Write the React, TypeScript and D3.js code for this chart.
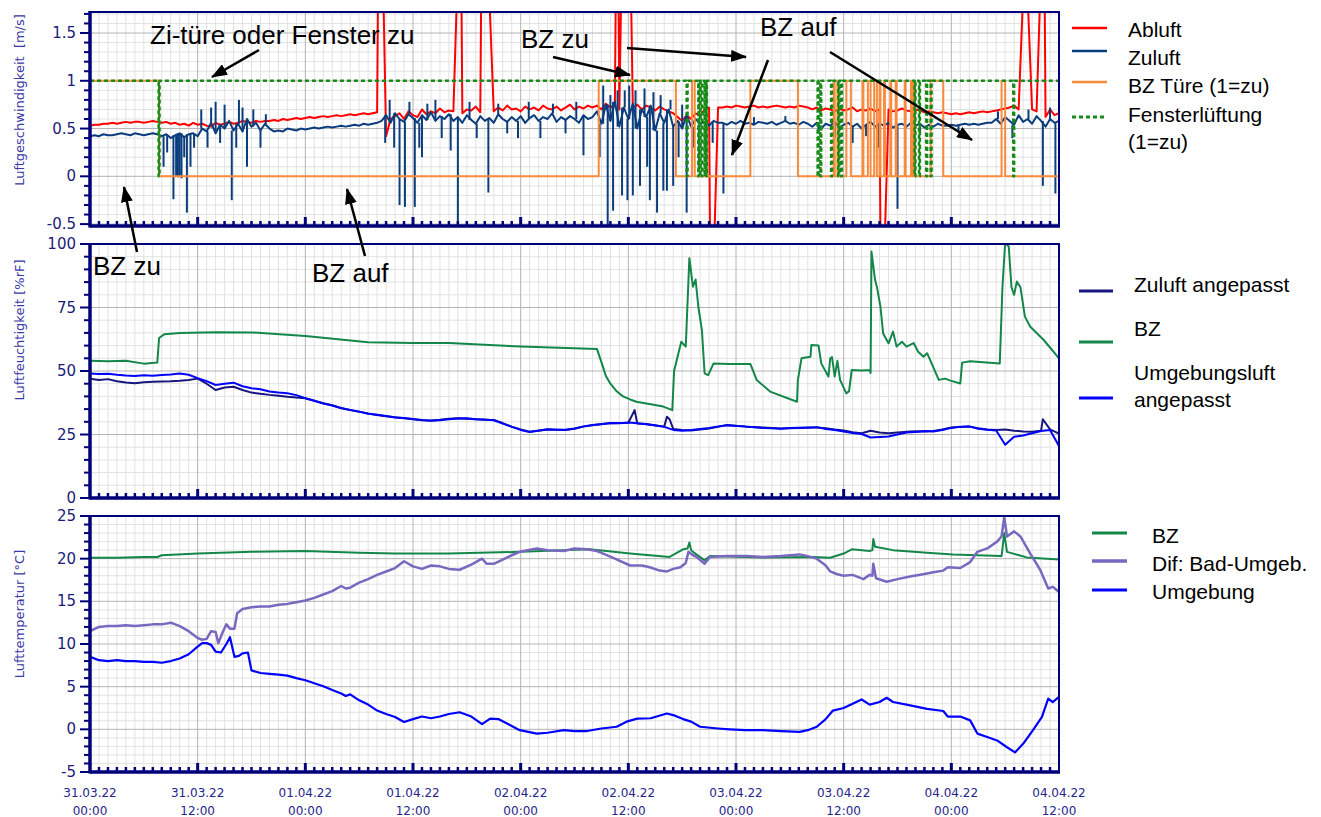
import React, { useEffect, useRef } from 'react';
import * as d3 from 'd3';

// time axis: hours since 31.03.22 00:00
const tickDates = ['31.03.22', '31.03.22', '01.04.22', '01.04.22', '02.04.22', '02.04.22', '03.04.22', '03.04.22', '04.04.22', '04.04.22'];
const tickTimes = ['00:00', '12:00', '00:00', '12:00', '00:00', '12:00', '00:00', '12:00', '00:00', '12:00'];

// --- top panel: Luftgeschwindigkeit [m/s], one value every 0.5 h ---
const zuluft = [
 0.42, 0.43, 0.42, 0.44, 0.43, 0.43, 0.44, 0.45, 0.44, 0.43, 0.45, 0.44, 0.43, 0.44, 0.45, 0.44,
 0.42, 0.44, 0.40, 0.43, 0.45, 0.41, 0.44, 0.45, 0.42,
 0.50, 0.47, 0.56, 0.45, 0.54, 0.50, 0.58, 0.48, 0.55, 0.47, 0.60, 0.52, 0.56, 0.48, 0.55, 0.50,
 0.47, 0.48, 0.47, 0.50, 0.49, 0.48, 0.50, 0.49, 0.50, 0.51, 0.50, 0.51, 0.52, 0.51, 0.52, 0.53, 0.52, 0.53, 0.54, 0.53, 0.55, 0.54, 0.55, 0.56,
 0.58, 0.64, 0.56, 0.66, 0.60, 0.57, 0.65, 0.61, 0.56, 0.64, 0.59, 0.67, 0.58, 0.63, 0.60, 0.65,
 0.58, 0.62, 0.56, 0.64, 0.59, 0.55, 0.63, 0.58, 0.61, 0.56, 0.65, 0.60, 0.57, 0.62, 0.58, 0.63, 0.56, 0.61, 0.64, 0.58, 0.62, 0.60, 0.66, 0.57, 0.62, 0.59, 0.63, 0.60, 0.56, 0.64, 0.60, 0.62,
 0.68, 0.55, 0.75, 0.58, 0.78, 0.52, 0.72, 0.60, 0.76, 0.50, 0.70, 0.62, 0.74, 0.48, 0.66, 0.56, 0.70, 0.52,
 0.58, 0.50, 0.64, 0.52, 0.60, 0.55, 0.57, 0.53, 0.58, 0.56,
 0.56, 0.54, 0.57, 0.55, 0.58, 0.55, 0.56, 0.54, 0.57, 0.56, 0.55, 0.57, 0.54, 0.56, 0.58, 0.55, 0.56, 0.54, 0.57, 0.55,
 0.52, 0.56, 0.50, 0.55, 0.53, 0.57, 0.51, 0.54, 0.56, 0.52, 0.55, 0.50, 0.54, 0.57, 0.52, 0.55, 0.53, 0.56, 0.51, 0.54, 0.55, 0.52, 0.56, 0.53, 0.55, 0.51, 0.54, 0.52, 0.55, 0.53,
 0.53, 0.54, 0.53, 0.54, 0.55, 0.54, 0.55, 0.54, 0.55, 0.56,
 0.56, 0.60, 0.55, 0.62, 0.58, 0.54, 0.64, 0.57, 0.60, 0.55, 0.63, 0.58, 0.52, 0.60, 0.56, 0.58,
];
// short excursions of the Zuluft signal: [hour, extreme value]
const zuluftSpikes: [number, number][] = [
 [8.2, 0.1], [8.6, 0.25], [9.3, -0.24], [9.6, 0.0], [9.8, -0.01], [10.0, 0.0], [10.2, -0.02], [10.5, 0.2], [10.8, -0.38], [11.2, 0.1], [11.6, 0.3],
 [12.4, 0.7], [13.1, 0.3], [13.5, 0.72], [14.0, 0.78], [14.5, 0.35], [15.0, 0.75], [15.8, -0.25], [16.3, 0.3], [16.6, 0.8], [17.0, 0.72], [17.5, 0.1], [18.2, 0.7], [19.0, 0.3], [19.6, 0.65],
 [32.9, 0.35], [33.4, 0.8], [33.9, 0.3], [34.5, -0.3], [35.1, -0.32], [35.6, 0.78], [36.2, -0.32], [36.7, 0.3], [37.0, 0.2], [37.6, 0.76], [38.5, 0.8], [39.2, 0.4],
 [40.2, 0.27], [41.0, -0.52], [42.3, 0.78], [43.1, 0.4], [44.4, -0.17], [45.5, 0.76], [46.5, 0.45], [47.7, 0.4], [48.9, 0.78], [50.2, 0.4], [51.6, 0.76], [53.0, 0.45], [54.2, 0.78], [55.0, 0.22],
 [56.8, 0.2], [57.2, 0.95], [57.7, -0.52], [58.0, 0.85], [58.3, -0.36], [58.8, 0.9], [59.3, -0.2], [59.6, 0.9], [59.9, -0.25], [60.1, 0.95], [60.5, -0.2], [60.8, 0.9],
 [61.3, -0.1], [61.8, 0.92], [62.1, 0.1], [62.4, -0.25], [62.8, 0.88], [63.2, -0.38], [63.6, 0.85], [63.9, -0.15], [64.3, -0.15], [64.7, 0.8], [65.0, -0.1],
 [65.6, 0.2], [66.0, 0.75], [66.5, -0.38], [67.2, 0.3], [67.9, 0.1], [68.6, 0.25], [69.4, 0.35],
 [70.6, -0.18], [74.0, 0.62], [77.5, 0.63], [81.2, 0.45], [83.0, 0.4], [85.0, 0.35], [86.5, 0.42], [87.9, 0.3], [90.0, -0.34], [92.5, 0.43],
 [96.8, 0.46], [101.2, 0.68], [102.8, 0.4], [104.6, 0.7], [106.2, -0.1], [107.0, 0.72], [107.6, -0.18],
];
const abluft = [
 0.53, 0.54, 0.54, 0.55, 0.55, 0.56, 0.55, 0.56, 0.57, 0.56, 0.57, 0.57, 0.56, 0.57, 0.58, 0.57,
 0.56, 0.57, 0.55, 0.56, 0.54, 0.55, 0.53, 0.56, 0.54, 0.55, 0.53, 0.52, 0.56, 0.54, 0.55, 0.57, 0.55, 0.56, 0.58, 0.57, 0.56, 0.58, 0.57, 0.58,
 0.58, 0.59, 0.58, 0.60, 0.59, 0.60, 0.61, 0.60, 0.61, 0.62, 0.61, 0.62, 0.63, 0.62, 0.63, 0.64, 0.63, 0.64, 0.65, 0.64, 0.65, 0.66, 0.65, 0.66, 0.67,
 0.35, 0.42, 0.60, 0.63, 0.66, 0.60, 0.68, 0.64, 0.62, 0.70, 0.65, 0.68, 0.66, 0.71, 0.67, 0.69,
 0.68, 0.72, 0.66, 0.70, 0.69, 0.73, 0.67, 0.71, 0.70, 0.68, 0.72, 0.69, 0.74, 0.70, 0.71, 0.68, 0.73, 0.70, 0.72, 0.69, 0.74, 0.71, 0.70, 0.73, 0.69, 0.72, 0.75, 0.70, 0.73, 0.71, 0.74, 0.72,
 0.74, 0.70, 0.76, 0.72, 0.75, 0.70, 0.77, 0.73, 0.72, 0.75, 0.70, 0.74, 0.72, 0.69, 0.73, 0.70, 0.68, 0.66,
 0.62, 0.58, 0.64, 0.60, 0.66, 0.63, 0.70, 0.72, 0.73, 0.72,
 0.72, 0.73, 0.72, 0.74, 0.73, 0.72, 0.73, 0.74, 0.72, 0.73, 0.72, 0.73, 0.74, 0.73, 0.72, 0.73, 0.72, 0.74, 0.73, 0.72,
 0.70, 0.72, 0.69, 0.71, 0.70, 0.68, 0.71, 0.69, 0.70, 0.72, 0.68, 0.70, 0.69, 0.71, 0.68, 0.70, 0.69, 0.70, 0.68, 0.69, 0.71, 0.69, 0.68, 0.70, 0.69, 0.67, 0.68, 0.67, 0.66, 0.67,
 0.66, 0.65, 0.66, 0.65, 0.66, 0.67, 0.66, 0.67, 0.68, 0.67,
 0.68, 0.69, 0.70, 0.71, 0.72, 0.74, 0.70, 0.73, 0.65, 0.70, 0.68, 0.72, 0.62, 0.70, 0.64, 0.66,
];
// [start, end, value] where Abluft leaves the plotted range
const abluftPeaks: [number, number, number][] = [
 [32.1, 32.7, 1.9], [40.9, 41.4, 1.9], [43.6, 44.5, 1.9], [58.6, 58.9, 1.9], [59.2, 59.5, 1.9],
 [59.9, 60.3, 1.9], [69.1, 69.6, -0.6], [88.1, 88.6, -0.6], [104.0, 104.5, 1.9], [105.9, 106.4, 1.9],
];
const doorTimes = [0, 7.7, 56.7, 65.3, 67.1, 67.4, 73.6, 78.9, 82.9, 83.0, 83.3, 83.4, 84.3, 84.8, 86.1, 86.2, 86.7, 87.0, 87.4, 87.7, 88.0, 88.1, 88.5, 88.6, 89.2, 89.3, 89.8, 89.9, 90.8, 90.9, 91.5, 91.6, 91.8, 91.9, 93.7, 95.1, 101.6, 102.0];
const doorStates = [1, 0, 1, 0, 1, 0, 1, 0, 1, 0, 1, 0, 1, 0, 1, 0, 1, 0, 1, 0, 1, 0, 1, 0, 1, 0, 1, 0, 1, 0, 1, 0, 1, 0, 1, 0, 1, 0];
const windowTimes = [0, 7.65, 7.75, 66.5, 66.6, 67.8, 67.85, 68.0, 68.05, 68.2, 68.25, 68.5, 68.55, 68.7, 68.75, 81.1, 81.2, 81.4, 81.5, 82.6, 82.7, 83.4, 83.5, 83.7, 83.8, 91.9, 92.0, 92.4, 92.5, 93.2, 93.3, 93.7, 93.8, 102.9, 103.0];
const windowStates = [1, 0, 1, 0, 1, 0, 1, 0, 1, 0, 1, 0, 1, 0, 1, 0, 1, 0, 1, 0, 1, 0, 1, 0, 1, 0, 1, 0, 1, 0, 1, 0, 1, 0, 1];

// --- middle panel: Luftfeuchtigkeit [%rF], hourly ---
const rhZuluft = [
 47, 46.5, 46.8, 46, 45.5, 45.2, 45.6, 45.8, 45.9, 46, 46.2, 46.5, 47,
 45, 42.5, 43.5, 43.8, 42.5, 41.5, 41, 40.6, 40.3, 39.9, 39.6, 39.3,
 38.3, 37.3, 36.5, 35.3, 34.6, 34, 33.3, 32.7, 32.2, 31.8, 31.4, 31, 30.6,
 30.5, 30.8, 31.2, 31.4, 31.2, 31, 30.8, 30.7, 29.5, 28.1, 27, 26.1, 26.5,
 27, 26.9, 26.8, 27.3, 28.1, 28.6, 29.1, 29.4, 29.5, 29.6, 29.3, 29.1, 28.6, 28.1,
 27.2, 26.8, 26.6, 27, 27.4, 28, 28.7, 28.4, 28.1, 28, 27.8, 27.6,
 27.4, 27.5, 27.6, 27.8, 27.8, 27.5, 27, 26.6, 25.9, 25.5, 26.5, 25.8,
 25.5, 25.8, 26.1, 26.3, 26.2, 26.4, 27, 27.8, 28.1, 28.1, 27.5, 27,
 26.8, 27, 26.5, 26.2, 26.1, 26.5, 27, 25.4,
];
const rhZuluftSpikes: [number, number][] = [[60.7, 34.6], [64.3, 32], [64.6, 31], [106.2, 31]];
const rhUmgebung = [
 49, 48.8, 48.9, 48.5, 48.2, 48, 48.3, 48.1, 48.4, 48.6, 49, 48.5, 47.2,
 46, 44.5, 45, 45.4, 44, 43.2, 42.8, 41.9, 41.5, 41.2, 40.5, 39.3,
 38.3, 37.2, 36.4, 35.4, 34.7, 34, 33.2, 32.8, 32.3, 31.7, 31.5, 31.1, 30.7,
 30.4, 30.6, 31, 31.3, 31.4, 31, 30.9, 30.6, 29.3, 28, 26.8, 26, 26.6,
 27.1, 26.9, 26.9, 27.4, 28.2, 28.7, 29, 29.5, 29.4, 29.7, 29.4, 29, 28.5, 28,
 26.8, 26.5, 26.8, 27.2, 27.6, 28.2, 28.6, 28.3, 28.2, 27.9, 27.6, 27.5,
 27.3, 27.6, 27.7, 27.7, 27.9, 27.2, 26.8, 26.2, 25.6, 25.2, 23.8, 24,
 24.2, 25, 25.8, 26, 26.4, 26.2, 26.8, 27.6, 28, 28.2, 27.3, 26.9,
 26.6, 21, 24.1, 24.6, 25.5, 26.4, 26.8, 20.5,
];
const rhBZ: [number, number][] = [
 [0, 54], [2, 53.8], [4, 54], [6, 52.9], [7.5, 53.3], [7.7, 63], [8.3, 64.5], [10, 65], [14, 65.3], [18, 65.2],
 [24, 63.8], [31, 61.3], [36, 61], [40, 61], [48, 59.6], [56.5, 58.7], [57.0, 53.5], [57.5, 48], [58, 45], [58.7, 42],
 [59.4, 40], [60.2, 38.8], [60.9, 37.9], [62.5, 36.9], [63.9, 36], [64.9, 34.6], [65.1, 50], [65.4, 54.3], [65.9, 61.5],
 [66.4, 59.6], [66.8, 94.4], [67.2, 83.2], [67.5, 86], [67.8, 75.3], [68.2, 66.1], [68.5, 49.1], [68.9, 48.4], [69.5, 53],
 [71.3, 52.8], [73.6, 52.8], [74.3, 46.5], [75.8, 41.9], [78.8, 37.9], [78.9, 46.5], [79.3, 55], [80.3, 55.6], [80.4, 60.2],
 [81.2, 60], [81.5, 53], [82.3, 47.8], [82.5, 55], [82.7, 55.5], [83.0, 47.8], [83.3, 54], [83.6, 46.5], [84.3, 41.2],
 [84.6, 42], [84.9, 50.4], [86, 50.2], [86.9, 50.4], [87.0, 49.2], [87.1, 97], [87.5, 85.8], [87.7, 83.2], [88.1, 75.3],
 [88.4, 64.8], [89.0, 60.9], [89.5, 65.5], [89.9, 59.6], [90.5, 61.5], [91.0, 59.6], [91.8, 61], [92.3, 57.6], [92.9, 55.6],
 [93.3, 57], [93.8, 53], [94.6, 46.5], [95.3, 47], [95.9, 46.2], [97.0, 45.1], [97.2, 53.3], [98.1, 53.8], [101.4, 53],
 [101.7, 83.2], [102.0, 100.5], [102.4, 99], [102.7, 83], [103.0, 80], [103.3, 85.2], [103.7, 83], [104.2, 71.4],
 [104.8, 67.4], [106.3, 62.2], [108, 55],
];

// --- bottom panel: Lufttemperatur [°C] ---
const tBZ: [number, number][] = [
 [0, 20.1], [3, 20.1], [6, 20.2], [7.5, 20.2], [8, 20.4], [12, 20.6], [18, 20.8], [24, 20.9], [30, 20.7], [34, 20.6],
 [40, 20.6], [48, 20.8], [55.7, 21.1], [60.2, 20.6], [64.6, 20.2], [66.1, 21.1], [66.6, 21.2], [66.8, 21.9], [67.0, 21.0],
 [67.2, 20.8], [68.5, 19.8], [69.1, 20.3], [75, 20.15], [80.6, 20.2], [82.5, 20.1], [84, 20.6], [84.9, 21.1], [86.9, 20.9],
 [87.2, 21.0], [87.3, 22.3], [87.5, 21.4], [89.5, 21], [93.3, 20.7], [96.2, 20.5], [101.6, 20.3], [101.9, 23], [102.2, 20.8],
 [104.4, 20.15], [108, 19.9],
];
const tDif: [number, number][] = [
 [0, 11.5], [1, 12], [2, 12.1], [3, 12.1], [4, 12.2], [5, 12.1], [6, 12.2], [7, 12.3], [8, 12.3], [9, 12.5], [10, 12.1],
 [11, 11.5], [12, 10.7], [12.5, 10.5], [13, 10.6], [13.5, 11.5], [14, 11.4], [14.3, 10.1], [14.8, 11.4], [15.2, 12.3],
 [15.6, 11.8], [16.1, 11.8], [16.4, 13.6], [17, 14.1], [18, 14.3], [19, 14.4], [20, 14.4], [21, 14.6], [22, 14.7],
 [23, 14.9], [24, 15.1], [25, 15.4], [26, 15.8], [27, 16.2], [28, 16.8], [28.5, 16.5], [29, 16.6], [30, 17.2], [31, 17.6],
 [32, 18.1], [33, 18.5], [34, 18.9], [35, 19.7], [36, 19.1], [37, 18.8], [38, 19.2], [39, 19.1], [40, 18.8], [41.2, 18.7],
 [42.5, 19.3], [43.7, 20], [44.2, 19.4], [45, 19.4], [46, 19.9], [47, 20.4], [47.9, 20.8], [49.8, 21.2], [51, 21],
 [52.8, 20.9], [54, 21.2], [55.4, 21.1], [56.5, 20.9], [57.2, 20.6], [58.5, 20], [60.2, 19.2], [61.5, 19.2], [62.4, 19],
 [63.5, 18.6], [64.3, 18.5], [65, 18.8], [65.8, 19], [66.4, 19.5], [66.7, 20.8], [67.2, 20.4], [67.6, 20.2], [68.5, 19.4],
 [69.1, 20.2], [71, 20.3], [73.2, 20.3], [75, 20.2], [77, 20.3], [79.1, 20.5], [80, 20.3], [81, 20], [82, 19.2],
 [82.5, 18.5], [83.2, 18.2], [84, 18], [85, 18.1], [86.2, 17.6], [86.9, 18.1], [87.2, 18], [87.3, 19.4], [87.6, 17.7],
 [88.8, 17.3], [90, 17.6], [91.4, 17.9], [93, 18.2], [94, 18.4], [95.1, 18.6], [95.6, 19], [97, 18.9], [98.1, 19.6],
 [98.9, 20.8], [100, 21.2], [101.1, 22], [101.6, 22.6], [101.9, 24.9], [102.2, 22.6], [103, 23.2], [103.7, 22.6],
 [104.8, 20.6], [105.9, 18.7], [106.8, 16.5], [107.3, 16.7], [108, 16.1],
];
const tUmgebung: [number, number][] = [
 [0, 8.5], [1, 8.1], [2, 8.0], [3, 8.1], [4, 8.0], [5, 8.0], [6, 7.9], [7, 7.9], [8, 7.8], [9, 8.0], [10, 8.3], [11, 8.8],
 [12, 9.7], [12.5, 10.1], [13, 10.1], [13.5, 9.9], [14, 9.1], [14.6, 9.0], [15.2, 10], [15.6, 10.8], [16.1, 8.5], [16.6, 8.6],
 [17, 8.9], [17.6, 9.0], [18, 6.9], [19, 6.6], [20, 6.5], [21, 6.4], [22, 6.3], [23, 6.0], [24, 5.75], [25, 5.4], [26, 5.05],
 [27, 4.6], [28, 4.2], [28.5, 3.9], [29, 4.1], [30, 3.4], [31, 2.9], [32, 2.2], [33, 1.8], [34, 1.45], [35, 0.86], [36, 1.2],
 [37, 1.5], [38, 1.3], [39, 1.5], [40, 1.8], [41.2, 2.0], [42.5, 1.5], [43.7, 0.6], [44.6, 1.25], [45.5, 1.2], [47, 0.4],
 [47.9, -0.1], [49.8, -0.5], [51, -0.4], [52.8, -0.1], [54, -0.2], [55.4, -0.2], [57, 0.1], [58.7, 0.3], [59.8, 0.9],
 [61, 1.25], [62.5, 1.3], [64.3, 1.85], [65.2, 1.6], [66.1, 1.2], [67, 0.9], [68, 0.3], [70, 0.1], [71.3, 0], [73, -0.1],
 [75, -0.1], [77, -0.2], [79.1, -0.3], [80, -0.1], [81, 0.3], [82, 1.2], [82.8, 2.2], [84, 2.5], [85, 3.0], [86, 3.5],
 [86.9, 2.9], [88, 3.2], [88.8, 3.7], [89.5, 3.2], [91, 2.9], [93.3, 2.4], [95.1, 2.15], [95.6, 1.5], [97, 1.5], [98.1, 1.05],
 [98.9, -0.5], [100, -0.9], [101.1, -1.3], [102.2, -2.1], [103.1, -2.7], [104, -1.7], [105.1, -0.1], [106.1, 1.45],
 [106.8, 3.6], [107.3, 3.2], [108, 3.8],
];

const NAVY = '#00007a';
const TXT = '#1c1c78';
const X0 = 90;
const X1 = 1059;

type Pt = [number, number];

export default function App() {
 const svgRef = useRef<SVGSVGElement>(null);

 useEffect(() => {
 if (!svgRef.current) return;
 const svg = d3.select(svgRef.current);
 svg.selectAll('*').remove();

 const x = d3.scaleLinear().domain([0, 108]).range([X0, X1]);
 const panels = [
 { top: 12, bottom: 226, domain: [-0.52, 1.72], majors: [-0.5, 0, 0.5, 1, 1.5], minors: d3.range(-5, 18).map(v => v / 10), title: 'Luftgeschwindigkeit  [m/s]', titleY: 100 },
 { top: 244, bottom: 498, domain: [0, 100], majors: [0, 25, 50, 75, 100], minors: d3.range(0, 101, 5), title: 'Luftfeuchtigkeit [%rF]', titleY: 330 },
 { top: 516, bottom: 772, domain: [-5, 25], majors: [-5, 0, 5, 10, 15, 20, 25], minors: d3.range(-5, 26, 1), title: 'Lufttemperatur [°C]', titleY: 614 },
 ];

 const defs = svg.append('defs');
 defs.append('marker')
 .attr('id', 'arrow').attr('viewBox', '0 0 16 12').attr('refX', 15).attr('refY', 6)
 .attr('markerWidth', 16).attr('markerHeight', 12).attr('markerUnits', 'userSpaceOnUse').attr('orient', 'auto')
 .append('path').attr('d', 'M0,0 L16,6 L0,12 Z').attr('fill', '#000');

 const hours = d3.range(0, 109);
 const ys = panels.map((p, i) => {
 const y = d3.scaleLinear().domain(p.domain).range([p.bottom, p.top]);
 defs.append('clipPath').attr('id', `clip${i}`).append('rect')
 .attr('x', X0).attr('y', p.top).attr('width', X1 - X0).attr('height', p.bottom - p.top);
 const g = svg.append('g');
 // grid
 g.selectAll('line.vmin').data(hours.filter(h => h % 12 !== 0)).enter().append('line')
 .attr('x1', d => x(d)).attr('x2', d => x(d)).attr('y1', p.top).attr('y2', p.bottom)
 .attr('stroke', '#e2e2e2').attr('stroke-width', 1);
 g.selectAll('line.hmin').data(p.minors.filter(v => !p.majors.includes(v))).enter().append('line')
 .attr('x1', X0).attr('x2', X1).attr('y1', d => y(d)).attr('y2', d => y(d))
 .attr('stroke', '#e2e2e2').attr('stroke-width', 1);
 g.selectAll('line.vmaj').data(hours.filter(h => h % 12 === 0)).enter().append('line')
 .attr('x1', d => x(d)).attr('x2', d => x(d)).attr('y1', p.top).attr('y2', p.bottom)
 .attr('stroke', '#b4b4b4').attr('stroke-width', 1);
 g.selectAll('line.hmaj').data(p.majors).enter().append('line')
 .attr('x1', X0).attr('x2', X1).attr('y1', d => y(d)).attr('y2', d => y(d))
 .attr('stroke', '#b4b4b4').attr('stroke-width', 1);
 return y;
 });

 const drawLine = (pi: number, pts: Pt[], color: string, width: number, curve: d3.CurveFactory = d3.curveLinear, dash?: string) => {
 const line = d3.line<Pt>().x(d => x(d[0])).y(d => ys[pi](d[1])).curve(curve);
 const path = svg.append('path').datum(pts).attr('d', line).attr('fill', 'none')
 .attr('stroke', color).attr('stroke-width', width).attr('stroke-linejoin', 'round')
 .attr('clip-path', `url(#clip${pi})`);
 if (dash) path.attr('stroke-dasharray', dash);
 };
 const byTime = (a: Pt, b: Pt) => a[0] - b[0];

 // top panel series
 const abPts: Pt[] = abluft.map((v, i) => [i * 0.5, v] as Pt)
 .filter(([h]) => !abluftPeaks.some(([a, b]) => h >= a && h <= b))
 .concat(abluftPeaks.flatMap(([a, b, v]) => [[a, v], [b, v]] as Pt[]))
 .sort(byTime);
 const zuPts: Pt[] = zuluft.map((v, i) => [i * 0.5, v] as Pt);
 const doorPts: Pt[] = doorTimes.map((t, i) => [t, doorStates[i]] as Pt).concat([[108, doorStates[doorStates.length - 1]]]);
 const winPts: Pt[] = windowTimes.map((t, i) => [t, windowStates[i]] as Pt).concat([[108, windowStates[windowStates.length - 1]]]);
 drawLine(0, abPts, '#ff0000', 2);
 drawLine(0, zuPts, '#0b3d7d', 2);
 svg.append('g').attr('clip-path', 'url(#clip0)').selectAll('line').data(zuluftSpikes).enter().append('line')
 .attr('x1', d => x(d[0])).attr('x2', d => x(d[0]))
 .attr('y1', d => ys[0](zuluft[Math.round(d[0] * 2)])).attr('y2', d => ys[0](d[1]))
 .attr('stroke', '#0b3d7d').attr('stroke-width', 2);
 drawLine(0, doorPts, '#fb8a3c', 2, d3.curveStepAfter);
 drawLine(0, winPts, '#178a17', 2.5, d3.curveStepAfter, '4,3');

 // middle panel series
 drawLine(1, rhBZ, '#13874a', 2);
 drawLine(1, rhZuluft.map((v, i) => [i, v] as Pt).concat(rhZuluftSpikes).sort(byTime), '#16167e', 2);
 drawLine(1, rhUmgebung.map((v, i) => [i, v] as Pt), '#0000ff', 2);

 // bottom panel series
 drawLine(2, tBZ, '#13874a', 2);
 drawLine(2, tDif, '#7a68c0', 2.5);
 drawLine(2, tUmgebung, '#0000ff', 2.2);

 // frames, ticks, labels
 panels.forEach((p, i) => {
 const y = ys[i];
 const g = svg.append('g');
 g.append('rect').attr('x', X0).attr('y', p.top).attr('width', X1 - X0).attr('height', p.bottom - p.top)
 .attr('fill', 'none').attr('stroke', NAVY).attr('stroke-width', 2);
 g.append('line').attr('x1', X0).attr('x2', X0).attr('y1', p.top - 1).attr('y2', p.bottom + 1.5)
 .attr('stroke', NAVY).attr('stroke-width', 3.5);
 g.append('line').attr('x1', X0).attr('x2', X1 + 1).attr('y1', p.bottom).attr('y2', p.bottom)
 .attr('stroke', NAVY).attr('stroke-width', 3.5);
 g.selectAll('line.yt').data(p.minors).enter().append('line')
 .attr('x1', d => X0 - (p.majors.includes(d) ? 10 : 6)).attr('x2', X0)
 .attr('y1', d => y(d)).attr('y2', d => y(d)).attr('stroke', NAVY).attr('stroke-width', 2);
 g.selectAll('line.xt').data(hours.slice(1, 108)).enter().append('line')
 .attr('x1', d => x(d)).attr('x2', d => x(d)).attr('y1', p.bottom)
 .attr('y2', d => p.bottom - (d % 12 === 0 ? 9 : 5))
 .attr('stroke', NAVY).attr('stroke-width', d => (d % 12 === 0 ? 3 : 2.5));
 g.selectAll('text.yl').data(p.majors).enter().append('text')
 .attr('x', 76).attr('y', d => y(d)).attr('text-anchor', 'end').attr('dominant-baseline', 'central')
 .attr('font-family', 'DejaVu Sans, Verdana, sans-serif').attr('font-size', 15).attr('fill', TXT)
 .text(d => String(d));
 g.append('text').attr('transform', `translate(24,${p.titleY}) rotate(-90)`)
 .attr('text-anchor', 'middle').attr('font-family', 'DejaVu Sans, Verdana, sans-serif')
 .attr('font-size', 13).attr('fill', '#3838a8').style('white-space', 'pre').text(p.title);
 });

 // x tick labels
 const xl = svg.append('g').attr('font-family', 'DejaVu Sans, Verdana, sans-serif').attr('font-size', 12)
 .attr('fill', '#25258a').attr('text-anchor', 'middle');
 tickDates.forEach((d, k) => {
 xl.append('text').attr('x', x(k * 12)).attr('y', 797).text(d);
 xl.append('text').attr('x', x(k * 12)).attr('y', 815).text(tickTimes[k]);
 });

 // legends
 const lg = svg.append('g').attr('font-family', 'Liberation Sans, Arial, sans-serif').attr('font-size', 21).attr('fill', '#000');
 const legendItem = (x1: number, x2: number, ly: number, color: string, w: number, tx: number, lines: string[], by: number, dash?: string) => {
 const l = lg.append('line').attr('x1', x1).attr('x2', x2).attr('y1', ly).attr('y2', ly).attr('stroke', color).attr('stroke-width', w);
 if (dash) l.attr('stroke-dasharray', dash);
 lines.forEach((t, j) => lg.append('text').attr('x', tx).attr('y', by + j * 27).text(t));
 };
 legendItem(1072, 1107, 28, '#ff0000', 2.5, 1128, ['Abluft'], 37);
 legendItem(1072, 1107, 51, '#0b3d7d', 2.5, 1128, ['Zuluft'], 65);
 legendItem(1072, 1107, 82, '#fb8a3c', 2.5, 1128, ['BZ Türe (1=zu)'], 93);
 legendItem(1072, 1107, 117, '#178a17', 3, 1128, ['Fensterlüftung', '(1=zu)'], 122, '4,3');
 legendItem(1079, 1113, 291, '#16167e', 3, 1134, ['Zuluft angepasst'], 292);
 legendItem(1079, 1113, 342, '#13874a', 3, 1134, ['BZ'], 336);
 legendItem(1079, 1113, 398, '#0000ff', 3, 1134, ['Umgebungsluft', 'angepasst'], 380);
 legendItem(1092, 1127, 533, '#13874a', 3, 1152, ['BZ'], 543);
 legendItem(1092, 1127, 561, '#7a68c0', 3.5, 1152, ['Dif: Bad-Umgeb.'], 571);
 legendItem(1092, 1127, 590, '#0000ff', 3, 1152, ['Umgebung'], 599);

 // annotations
 const an = svg.append('g').attr('font-family', 'Liberation Sans, Arial, sans-serif').attr('font-size', 26).attr('fill', '#000');
 an.append('text').attr('x', 150).attr('y', 44).text('Zi-türe oder Fenster zu');
 an.append('text').attr('x', 521).attr('y', 48).text('BZ zu');
 an.append('text').attr('x', 760).attr('y', 36).text('BZ auf');
 an.append('text').attr('x', 93).attr('y', 275).text('BZ zu');
 an.append('text').attr('x', 312).attr('y', 282).text('BZ auf');
 const arrows = [
 [259, 50, 212, 77], [553, 57, 630, 75], [627, 48, 746, 57], [768, 60, 732, 155],
 [830, 52, 972, 140], [137, 252, 124, 187], [365, 256, 347, 189],
 ];
 arrows.forEach(([ax1, ay1, ax2, ay2]) => {
 an.append('line').attr('x1', ax1).attr('y1', ay1).attr('x2', ax2).attr('y2', ay2)
 .attr('stroke', '#000').attr('stroke-width', 2.5).attr('marker-end', 'url(#arrow)');
 });
 }, []);

 return <svg ref={svgRef} width={1321} height={817} style={{ position: 'absolute', left: 0, top: 0, background: '#fff' }} />;
}
